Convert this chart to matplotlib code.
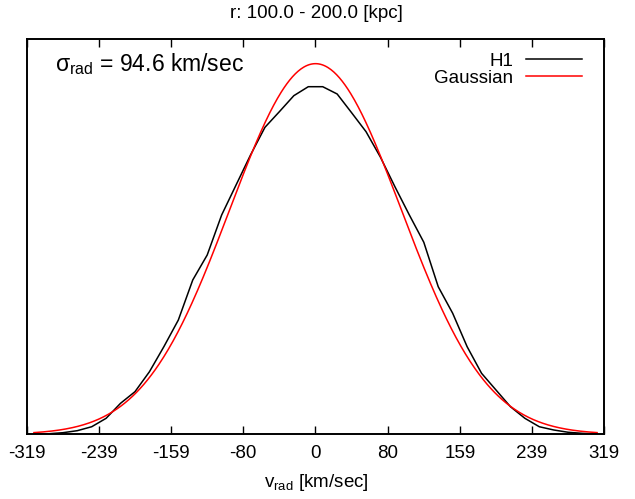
import numpy as np
import matplotlib
matplotlib.use("Agg")
import matplotlib.pyplot as plt

plt.rcParams['font.family'] = ['Liberation Sans', 'DejaVu Sans']
plt.rcParams['mathtext.fontset'] = 'custom'
plt.rcParams['mathtext.rm'] = 'Liberation Sans'
plt.rcParams['mathtext.it'] = 'Liberation Sans:italic'
plt.rcParams['mathtext.bf'] = 'Liberation Sans:bold'

# ---- data ----
title_text = "r: 100.0 - 200.0 [kpc]"
sigma_rad = 94.6
x_half_range = 318.6
tick_positions = [-318.6, -238.95, -159.3, -79.65, 0.0, 79.65, 159.3, 238.95, 318.6]
tick_labels = ["-319", "-239", "-159", "-80", "0", "80", "159", "239", "319"]

# H1 histogram (normalised, units of 1e-3 per km/sec), 40 bins
h1_values = [0.003, 0.006, 0.018, 0.041, 0.086, 0.182, 0.353, 0.485, 0.712, 0.997,
             1.300, 1.756, 2.040, 2.495, 2.837, 3.178, 3.493, 3.671, 3.853, 3.955,
             3.955, 3.872, 3.659, 3.443, 3.152, 2.817, 2.495, 2.185, 1.679, 1.377,
             0.997, 0.694, 0.504, 0.314, 0.182, 0.086, 0.049, 0.023, 0.011, 0.003]
n_bins = len(h1_values)
bin_width = 2 * x_half_range / n_bins
bin_centers = -x_half_range + (np.arange(n_bins) + 0.5) * bin_width
h1 = np.array(h1_values) * 1e-3

# Gaussian model with the quoted dispersion
vg = np.linspace(bin_centers[0], bin_centers[-1], 600)
gauss = np.exp(-vg**2 / (2 * sigma_rad**2)) / (np.sqrt(2 * np.pi) * sigma_rad)

# ---- figure ----
W, H = 635, 499
fig = plt.figure(figsize=(W / 100, H / 100), dpi=100)
L, R, T, B = 26.7, 604.3, 38.8, 434.3
ax = fig.add_axes([L / W, 1 - B / H, (R - L) / W, (B - T) / H])

ax.plot(bin_centers, h1, color='black', lw=1.1, label='H1')
ax.plot(vg, gauss, color='#ff0000', lw=1.1, label='Gaussian')

ax.set_xlim(-x_half_range, x_half_range)
ax.set_ylim(0, 0.0045)
ax.set_xticks(tick_positions)
ax.set_xticklabels(tick_labels)
ax.set_yticks([])
ax.tick_params(axis='x', direction='in', length=5.5, width=1.0, top=True,
               labelsize=13.5, pad=8)
for s in ax.spines.values():
    s.set_linewidth(1.4)

leg = ax.legend(loc='upper right', bbox_to_anchor=(582 / W, 1 - 52.5 / H),
                bbox_transform=fig.transFigure, markerfirst=False, frameon=False,
                fontsize=13.5, handlelength=3.0, handletextpad=0.65,
                labelspacing=0.0, borderpad=0, borderaxespad=0)

fig.text(55 / W, 1 - 71 / H, r'$\mathrm{\sigma_{rad}}$ = 94.6 km/sec',
         fontsize=16.5, ha='left', va='baseline')
fig.text(316 / W, 1 - 18.3 / H, title_text, fontsize=13.5, ha='center', va='baseline')
fig.text(316 / W, 1 - 487 / H, r'v$_{\mathrm{rad}}$ [km/sec]', fontsize=13.5,
         ha='center', va='baseline')

fig.savefig('out.png', dpi=100)
